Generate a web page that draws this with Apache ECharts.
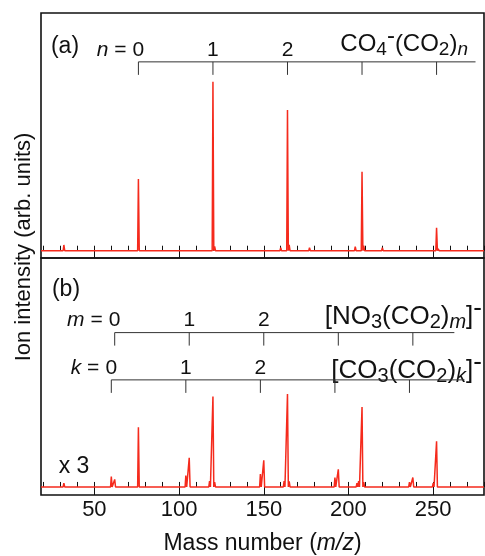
<!DOCTYPE html>
<html>
<head>
<meta charset="utf-8">
<script src="https://cdn.jsdelivr.net/npm/echarts@6/dist/echarts.min.js"></script>
<style>
  html, body { margin: 0; padding: 0; background: #fff; }
  #chart { width: 485px; height: 556px; }
</style>
</head>
<body>
<div id="chart"></div>
<script>
const FONT = "Liberation Sans";
const RED = "#f52a1c";
const INK = "#111";

// axis ticks (m/z)
const minorTicks = [20, 30, 40, 50, 60, 70, 80, 90, 100, 110, 120, 130, 140, 150, 160, 170, 180, 190, 200, 210, 220, 230, 240, 250, 260, 270, 280];
const majorTicks = [50, 100, 150, 200, 250];

// (a) peaks: mass, intensity (n=1 peak = 100)
const peaksAMass = [32, 61, 76, 120, 121, 133, 139, 152, 160, 164, 165, 177, 196, 201, 204, 208, 209, 220, 252, 253, 264];
const peaksAInt = [3.4, 0.8, 42.4, 100, 2.5, 0.8, 0.8, 0.8, 1.8, 83.3, 3.5, 1.8, 0.6, 0.6, 2.4, 46.7, 3, 1.8, 13.6, 1.2, 0.6];

// (b) peaks, shown x 3
const peaksBMass = [32, 60, 62, 76, 104, 106, 118, 120, 121, 148, 150, 162, 164, 165, 192, 194, 205, 206, 208, 209, 236, 238, 250, 252, 253, 264];
const peaksBInt = [2.4, 6.5, 4.7, 37.1, 7.1, 18.2, 3.6, 56.2, 3, 8, 16.6, 3.6, 57.8, 3.5, 5.9, 11, 2.4, 3.6, 49.7, 3, 3, 5.9, 2.4, 28.4, 1.2, 0.6];

// cluster ladders
const nLadder = [76, 120, 164, 208, 252];
const mLadder = [62, 106, 150, 194, 238];
const kLadder = [60, 104, 148, 192, 236];
const ladderLabels = ["0", "1", "2", "", ""];

function spectrum(masses, ints) {
	const pts = [[18.5, 0]];
	masses.forEach((m, i) => {
		pts.push([m - 0.45, 0], [m, ints[i]], [m + 0.5, 0]);
	});
	pts.push([280, 0]);
	return pts;
}

function ladderSeries(ladder, level, end, xIdx, prefix) {
	const yIdx = xIdx === 0 ? 0 : 1;
	return [
		{
			type: "line",
			xAxisIndex: xIdx,
			yAxisIndex: yIdx,
			data: [[ladder[0], level], [end, level]],
			symbol: "none",
			lineStyle: { color: "#333", width: 1 },
			silent: true,
		},
		{
			type: "custom",
			coordinateSystem: "cartesian2d",
			xAxisIndex: xIdx,
			yAxisIndex: yIdx,
			data: ladder.map((m) => [m, level]),
			renderItem: (params, api) => {
				const p = api.coord([api.value(0), api.value(1)]);
				const kids = [
					{
						type: "line",
						shape: { x1: p[0], y1: p[1], x2: p[0], y2: p[1] + 13 },
						style: { stroke: "#333", lineWidth: 1 },
					},
				];
				const lab = ladderLabels[params.dataIndex];
				if (lab) {
					kids.push({
						type: "text",
						style: {
							text: lab, x: p[0], y: p[1] - 12, align: "center", verticalAlign: "middle",
							fontSize: 21, fontFamily: FONT, fill: INK,
						},
					});
				}
				if (params.dataIndex === 0) {
					kids.push({
						type: "text",
						style: {
							text: "{i|" + prefix + "} =", x: p[0] - 12, y: p[1] - 12, align: "right", verticalAlign: "middle",
							fontSize: 21, fontFamily: FONT, fill: INK,
							rich: { i: { fontSize: 21, fontFamily: FONT, fontStyle: "italic", fill: INK } },
						},
					});
				}
				return { type: "group", children: kids };
			},
		},
	];
}

function titleRich(size) {
	const sub = Math.round(size * 0.78);
	return {
		b: { fontSize: size, fontFamily: FONT, fill: INK },
		s: { fontSize: sub, fontFamily: FONT, fill: INK, padding: [11, 0, 0, 0] },
		si: { fontSize: sub, fontFamily: FONT, fontStyle: "italic", fill: INK, padding: [11, 0, 0, 0] },
		u: { fontSize: size, fontFamily: FONT, fill: INK, padding: [0, 0, 16, 0] },
	};
}

function txt(text, x, y, size, extra) {
	return Object.assign({
		type: "text", x: x, y: y, silent: true,
		style: { text: text, fontSize: size, fontFamily: FONT, fill: INK, align: "center", verticalAlign: "middle", rich: titleRich(size) },
	}, extra || {});
}

const chart = echarts.init(document.getElementById("chart"), null, { renderer: "canvas" });

function xAxisBase(grid, major, labels) {
	return {
		type: "value", gridIndex: grid, min: 18.5, max: 280, position: "bottom",
		axisLine: { show: false },
		splitLine: { show: false },
		axisTick: {
			show: true, inside: true, length: major ? 9 : 5,
			customValues: major ? majorTicks : minorTicks,
			lineStyle: { color: INK, width: 1 },
		},
		axisLabel: labels
			? { show: true, customValues: majorTicks, fontSize: 22, fontFamily: FONT, color: INK, margin: 4 }
			: { show: false },
	};
}

const xb = xAxisBase(1, false, true);
xb.name = "{t|Mass number (}{i|m/z}{t|)}";
xb.nameLocation = "middle";
xb.nameGap = 37;
xb.nameTextStyle = {
	rich: {
		t: { fontSize: 23, fontFamily: FONT, color: INK },
		i: { fontSize: 23, fontFamily: FONT, fontStyle: "italic", color: INK },
	},
};

const option = {
	animation: false,
	backgroundColor: "#fff",
	grid: [
		{ left: 41, top: 13, width: 443, height: 245, show: true, borderColor: INK, borderWidth: 1.6 },
		{ left: 41, top: 258, width: 443, height: 249, show: true, borderColor: INK, borderWidth: 1.6 },
	],
	xAxis: [xAxisBase(0, false, false), xb, xAxisBase(0, true, false), xAxisBase(1, true, false)],
	yAxis: [
		{ type: "value", gridIndex: 0, min: -4.3, max: 140.6, show: false },
		{ type: "value", gridIndex: 1, min: -5.0, max: 142.4, show: false },
	],
	series: [
		{
			type: "line", xAxisIndex: 0, yAxisIndex: 0, data: spectrum(peaksAMass, peaksAInt),
			symbol: "none", lineStyle: { color: RED, width: 1.5 }, silent: true,
		},
		{
			type: "line", xAxisIndex: 1, yAxisIndex: 1, data: spectrum(peaksBMass, peaksBInt),
			symbol: "none", lineStyle: { color: RED, width: 1.5 }, silent: true,
		},
		...ladderSeries(nLadder, 111.7, 275, 0, "n"),
		...ladderSeries(mLadder, 96, 262.5, 1, "m"),
		...ladderSeries(kLadder, 66.6, 268.5, 1, "k"),
	],
	graphic: [
		txt("(a)", 65, 47, 23),
		txt("(b)", 66, 290, 23),
		txt("x 3", 74, 467, 23),
		txt("Ion intensity (arb. units)", 24, 247, 22, { rotation: Math.PI / 2 }),
		txt("{b|CO}{s|4}{u|-}{b|(CO}{s|2}{b|)}{si|n}", 468, 44, 24),
		txt("{b|[NO}{s|3}{b|(CO}{s|2}{b|)}{si|m}{b|]}{u|-}", 482, 317, 26),
		txt("{b|[CO}{s|3}{b|(CO}{s|2}{b|)}{si|k}{b|]}{u|-}", 482, 371, 26),
	],
};

// titles are right-aligned
option.graphic.slice(4).forEach((g) => { g.style.align = "right"; });

chart.setOption(option);
</script>
</body>
</html>
